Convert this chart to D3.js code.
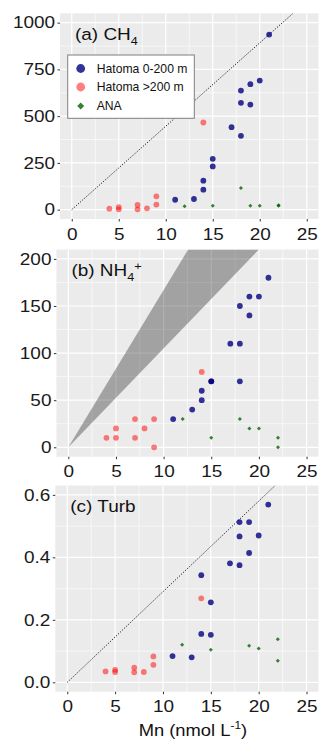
<!DOCTYPE html>
<html>
<head>
<meta charset="utf-8">
<script src="https://cdn.jsdelivr.net/npm/d3@7"></script>
<style>
  body { margin: 0; background: #fff; }
  svg { display: block; font-family: "Liberation Sans", Arial, Helvetica, sans-serif; }
</style>
</head>
<body>
<svg width="320" height="741"></svg>
<script>
// Mn (nmol L-1) and the matching values
const shallowMn   = [11, 13, 14, 14, 15, 15, 17, 18, 18, 18, 19, 19, 20, 21];
const shallowCH4  = [53, 57, 107, 155, 231, 272, 441, 395, 571, 637, 562, 671, 690, 936];
const shallowNH4  = [30, 40, 50, 60, 70, 70, 110, 70, 110, 150, 140, 160, 160, 180];
const shallowTurb = [0.084, 0.080, 0.155, 0.343, 0.152, 0.256, 0.381, 0.375, 0.467, 0.513, 0.414, 0.513, 0.470, 0.569];

const deepMn   = [4, 5, 5, 7, 7, 8, 9, 9, 14];
const deepCH4  = [5, 14, 2, 25, 2, 7, 27, 71, 466];
const deepNH4  = [10, 20, 10, 30, 10, 20, 30, 0, 80];
const deepTurb = [0.035, 0.040, 0.033, 0.047, 0.032, 0.033, 0.056, 0.083, 0.269];

const anaMn   = [12, 15, 18, 19, 20, 22, 22];
const anaCH4  = [18, 21, 116, 21, 21, 21, 23];
const anaNH4  = [30, 10, 30, 20, 20, 10, 0];
const anaTurb = [0.120, 0.104, null, 0.117, 0.108, 0.138, 0.069];

const xTicks = [0, 5, 10, 15, 20, 25];
const ch4Ticks = [0, 250, 500, 750, 1000];
const nh4Ticks = [0, 50, 100, 150, 200];
const turbTicks = [0, 0.2, 0.4, 0.6];

const seriesNames = ["Hatoma 0-200 m", "Hatoma >200 m", "ANA"];

// reference lines through the origin (slopes)
const ch4Slope = 44.6;
const turbSlope = 0.029;
const nh4Band = [16.7, 10.5];

const svg = d3.select("svg");
const SX = 1.15;                       // text in the figure is a bit wider than Helvetica
const STRETCH = `scale(${SX},1)`;

function pts(xs, ys){
    return xs.map((x, i) => ({x: x, y: ys[i]})).filter(d => d.y != null);
}

function diamond(cx, cy, r){
    return `M${cx},${cy - r}L${cx + r},${cy}L${cx},${cy + r}L${cx - r},${cy}Z`;
}

const panels = [
    {id: "a", box: {l: 60, r: 318.5, t: 13.3, b: 219}, ylim: [0, 1000], ticks: ch4Ticks,
     fmt: d3.format("d"), shallow: shallowCH4, deep: deepCH4, ana: anaCH4,
     title: ["(a) CH", "4", null], line: ch4Slope, legend: true},
    {id: "b", box: {l: 56.4, r: 318.5, t: 249.5, b: 456.7}, ylim: [0, 200], ticks: nh4Ticks,
     fmt: d3.format("d"), shallow: shallowNH4, deep: deepNH4, ana: anaNH4,
     title: ["(b) NH", "4", "+"], band: nh4Band},
    {id: "c", box: {l: 55.3, r: 318.5, t: 485.5, b: 691.7}, ylim: [0, 0.6], ticks: turbTicks,
     fmt: d3.format(".1f"), shallow: shallowTurb, deep: deepTurb, ana: anaTurb,
     title: ["(c) Turb", null, null], line: turbSlope, xlabel: true}
];

function drawPanel(p){
    const bx = p.box;
    const ex = (25 - 0) * 0.05, ey = (p.ylim[1] - p.ylim[0]) * 0.05;
    const x = d3.scaleLinear().domain([0 - ex, 25 + ex]).range([bx.l, bx.r]);
    const y = d3.scaleLinear().domain([p.ylim[0] - ey, p.ylim[1] + ey]).range([bx.b, bx.t]);
    const g = svg.append("g");

    g.append("defs").append("clipPath").attr("id", "clip" + p.id)
        .append("rect").attr("x", bx.l).attr("y", bx.t)
        .attr("width", bx.r - bx.l).attr("height", bx.b - bx.t);

    g.append("rect").attr("x", bx.l).attr("y", bx.t)
        .attr("width", bx.r - bx.l).attr("height", bx.b - bx.t)
        .attr("fill", "#EBEBEB");

    // grid
    const step = p.ticks[1] - p.ticks[0];
    const yMinor = p.ticks.slice(1).map(t => t - step / 2);
    const xMinor = xTicks.slice(1).map(t => t - 2.5);
    const grid = g.append("g").attr("stroke", "#fff");
    grid.selectAll(".xm").data(xMinor).join("line")
        .attr("x1", d => x(d)).attr("x2", d => x(d)).attr("y1", bx.t).attr("y2", bx.b)
        .attr("stroke-width", 0.6);
    grid.selectAll(".ym").data(yMinor).join("line")
        .attr("y1", d => y(d)).attr("y2", d => y(d)).attr("x1", bx.l).attr("x2", bx.r)
        .attr("stroke-width", 0.6);
    grid.selectAll(".xM").data(xTicks).join("line")
        .attr("x1", d => x(d)).attr("x2", d => x(d)).attr("y1", bx.t).attr("y2", bx.b)
        .attr("stroke-width", 1.2);
    grid.selectAll(".yM").data(p.ticks).join("line")
        .attr("y1", d => y(d)).attr("y2", d => y(d)).attr("x1", bx.l).attr("x2", bx.r)
        .attr("stroke-width", 1.2);

    const top = p.ylim[1] + ey;
    const clipped = g.append("g").attr("clip-path", `url(#clip${p.id})`);
    if (p.band){
        const poly = [[0, 0], [top / p.band[0], top], [top / p.band[1], top]];
        clipped.append("path")
            .attr("d", d3.line().x(d => x(d[0])).y(d => y(d[1]))(poly) + "Z")
            .attr("fill", "#000").attr("fill-opacity", 0.31);
    }
    if (p.line){
        clipped.append("line")
            .attr("x1", x(0)).attr("y1", y(0))
            .attr("x2", x(top / p.line)).attr("y2", y(top))
            .attr("stroke", "#1a1a1a").attr("stroke-width", 1)
            .attr("stroke-dasharray", "1.2,1.6");
    }

    // points
    clipped.selectAll(".s").data(pts(shallowMn, p.shallow)).join("circle")
        .attr("cx", d => x(d.x)).attr("cy", d => y(d.y)).attr("r", 2.9)
        .attr("fill", "#000080").attr("fill-opacity", 0.8);
    clipped.selectAll(".d").data(pts(deepMn, p.deep)).join("circle")
        .attr("cx", d => x(d.x)).attr("cy", d => y(d.y)).attr("r", 2.9)
        .attr("fill", "#FF0000").attr("fill-opacity", 0.5);
    clipped.selectAll(".n").data(pts(anaMn, p.ana)).join("path")
        .attr("d", d => diamond(x(d.x), y(d.y), 2))
        .attr("fill", "#006400").attr("fill-opacity", 0.8);

    // axes
    const ya = g.append("g").attr("transform", `translate(${bx.l},0)`)
        .call(d3.axisLeft(y).tickValues(p.ticks).tickFormat(p.fmt).tickSize(2.5).tickPadding(1.8));
    const xa = g.append("g").attr("transform", `translate(0,${bx.b})`)
        .call(d3.axisBottom(x).tickValues(xTicks).tickSize(2.5).tickPadding(6.5));
    [ya, xa].forEach(a => {
        a.select(".domain").remove();
        a.selectAll("line").attr("stroke", "#333");
        a.selectAll("text").attr("fill", "#1a1a1a").attr("font-size", 16.5)
            .attr("font-family", null).attr("transform", STRETCH);
    });

    // panel title
    const t = g.append("text").attr("x", (bx.l + 15) / SX).attr("y", bx.t + 27)
        .attr("transform", STRETCH).attr("font-size", 16.5).attr("fill", "#111")
        .text(p.title[0]);
    if (p.title[1]) t.append("tspan").attr("font-size", 11).attr("dy", 5).text(p.title[1]);
    if (p.title[2]) t.append("tspan").attr("font-size", 11).attr("dy", -11).text(p.title[2]);

    if (p.legend) drawLegend(g);
    if (p.xlabel){
        const xl = svg.append("text").attr("x", ((bx.l + bx.r) / 2 + 6) / 1.08).attr("y", 736.5)
            .attr("transform", "scale(1.08,1)")
            .attr("text-anchor", "middle").attr("font-size", 17).attr("fill", "#111")
            .text("Mn (nmol L");
        xl.append("tspan").attr("font-size", 11).attr("dy", -7).text("-1");
        xl.append("tspan").attr("dy", 7).text(")");
    }
}

function drawLegend(g){
    const lg = g.append("g");
    lg.append("rect").attr("x", 67.7).attr("y", 55).attr("width", 126.6).attr("height", 63.3)
        .attr("fill", "#fff").attr("stroke", "#7f7f7f").attr("stroke-width", 1);
    const rows = [68.5, 87, 106];
    const kx = 80.7;
    lg.append("circle").attr("cx", kx).attr("cy", rows[0]).attr("r", 4.4)
        .attr("fill", "#000080").attr("fill-opacity", 0.8);
    lg.append("circle").attr("cx", kx).attr("cy", rows[1]).attr("r", 4.4)
        .attr("fill", "#FF0000").attr("fill-opacity", 0.5);
    lg.append("path").attr("d", diamond(kx, rows[2], 3.5))
        .attr("fill", "#006400").attr("fill-opacity", 0.8);
    lg.selectAll(".lt").data(seriesNames).join("text")
        .attr("x", 96.7).attr("y", (d, i) => rows[i] + 4.3)
        .attr("font-size", 12.2).attr("fill", "#111").text(d => d);
}

panels.forEach(drawPanel);
</script>
</body>
</html>
